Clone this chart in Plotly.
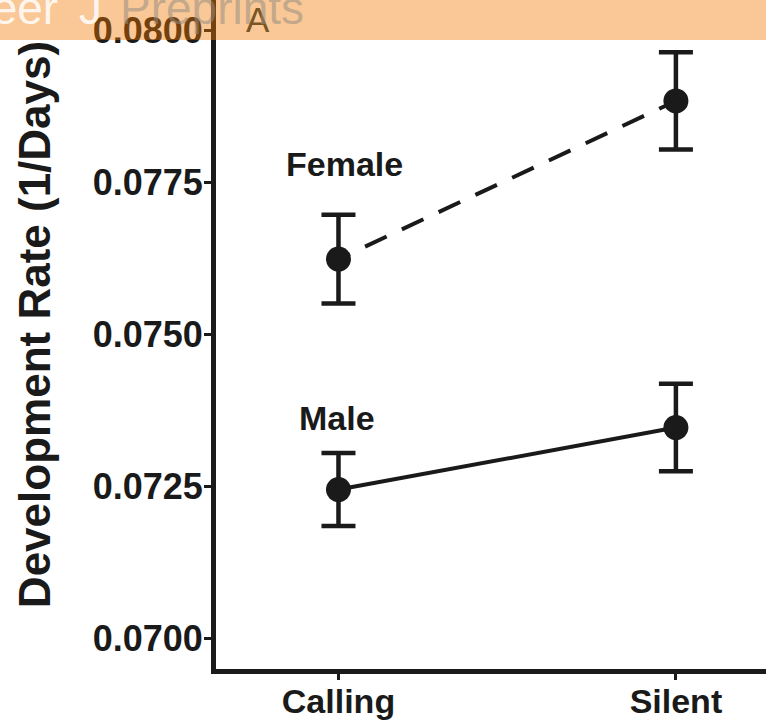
import plotly.graph_objects as go

# ---- data ----
categories = ["Calling", "Silent"]
female_rate = [0.07624, 0.07884]
female_err = [0.00073, 0.00080]
male_rate = [0.07245, 0.07347]
male_err = [0.00060, 0.00072]
y_tick_vals = [0.0700, 0.0725, 0.0750, 0.0775, 0.0800]
y_tick_text = ["0.0700", "0.0725", "0.0750", "0.0775", "0.0800"]
x_pos = [0, 1]

INK = "#1a1a1a"
FONT = "Liberation Sans, Arial, Helvetica, sans-serif"

dash_pattern = "12.6px,16.8px" + ",23.8px,16.8px" * 12

fig = go.Figure()

fig.add_trace(go.Scatter(
    x=x_pos, y=female_rate, mode="lines+markers", name="Female",
    line=dict(color=INK, width=4, dash=dash_pattern),
    marker=dict(color=INK, size=25),
    error_y=dict(type="data", array=female_err, visible=True,
                 color=INK, thickness=4.5, width=17),
    showlegend=False,
))
fig.add_trace(go.Scatter(
    x=x_pos, y=male_rate, mode="lines+markers", name="Male",
    line=dict(color=INK, width=4),
    marker=dict(color=INK, size=25),
    error_y=dict(type="data", array=male_err, visible=True,
                 color=INK, thickness=4.5, width=17),
    showlegend=False,
))

annotations = [
    dict(text="Female", x=0.019, y=0.0778, xref="x", yref="y",
         showarrow=False, xanchor="center", yanchor="middle",
         font=dict(family=FONT, size=34, color=INK, weight="bold")),
    dict(text="Male", x=-0.005, y=0.07363, xref="x", yref="y",
         showarrow=False, xanchor="center", yanchor="middle",
         font=dict(family=FONT, size=34, color=INK, weight="bold")),
    dict(text="Development Rate (1/Days)", textangle=-90,
         x=(34 - 216) / 550, y=0.514, xref="paper", yref="paper",
         showarrow=False, xanchor="center", yanchor="middle",
         font=dict(family=FONT, size=44, color=INK, weight="bold")),
    # panel letter (seen through the watermark banner)
    dict(text="A", x=(258 - 216) / 550, y=(669 - 19) / 669,
         xref="paper", yref="paper", showarrow=False,
         xanchor="center", yanchor="middle",
         font=dict(family=FONT, size=35, color="#7a5524")),
    # watermark banner text
    dict(text="Peer", x=(60 - 216) / 550, y=(669 - 8) / 669,
         xref="paper", yref="paper", showarrow=False,
         xanchor="right", yanchor="middle",
         font=dict(family=FONT, size=46, color="rgba(255,255,255,0.85)")),
    dict(text="J", x=(90 - 216) / 550, y=(669 - 8) / 669,
         xref="paper", yref="paper", showarrow=False,
         xanchor="center", yanchor="middle",
         font=dict(family=FONT, size=46, color="rgba(255,255,255,0.85)")),
    dict(text="Preprints", x=(118 - 216) / 550, y=(669 - 8) / 669,
         xref="paper", yref="paper", showarrow=False,
         xanchor="left", yanchor="middle",
         font=dict(family=FONT, size=46, color="rgba(150,140,130,0.55)")),
]

shapes = [
    dict(type="rect", xref="paper", yref="paper",
         x0=-0.45, x1=1.05, y0=(669 - 40) / 669, y1=1.05,
         fillcolor="rgba(243,122,0,0.41)", line=dict(width=0), layer="above"),
]

fig.update_layout(
    width=766, height=728,
    margin=dict(l=216, r=0, t=0, b=59),
    paper_bgcolor="white", plot_bgcolor="white",
    annotations=annotations, shapes=shapes,
    xaxis=dict(
        range=[-0.363, 1.267], tickvals=x_pos, ticktext=categories,
        showline=True, linewidth=5, linecolor=INK, showgrid=False,
        zeroline=False, ticks="outside", ticklen=6, tickwidth=3,
        tickcolor=INK, ticklabelstandoff=-8,
        tickfont=dict(family=FONT, size=34, color=INK, weight="bold"),
    ),
    yaxis=dict(
        range=[0.0695, 0.0805], tickvals=y_tick_vals, ticktext=y_tick_text,
        showline=True, linewidth=5, linecolor=INK, showgrid=False,
        zeroline=False, ticks="outside", ticklen=7, tickwidth=3,
        tickcolor=INK, ticklabelstandoff=-6,
        tickfont=dict(family=FONT, size=36, color=INK, weight="bold"),
    ),
)

fig.write_html(
    "out.html",
    config={"displayModeBar": False},
    post_script="document.body.style.margin='0';document.body.style.padding='0';",
)
